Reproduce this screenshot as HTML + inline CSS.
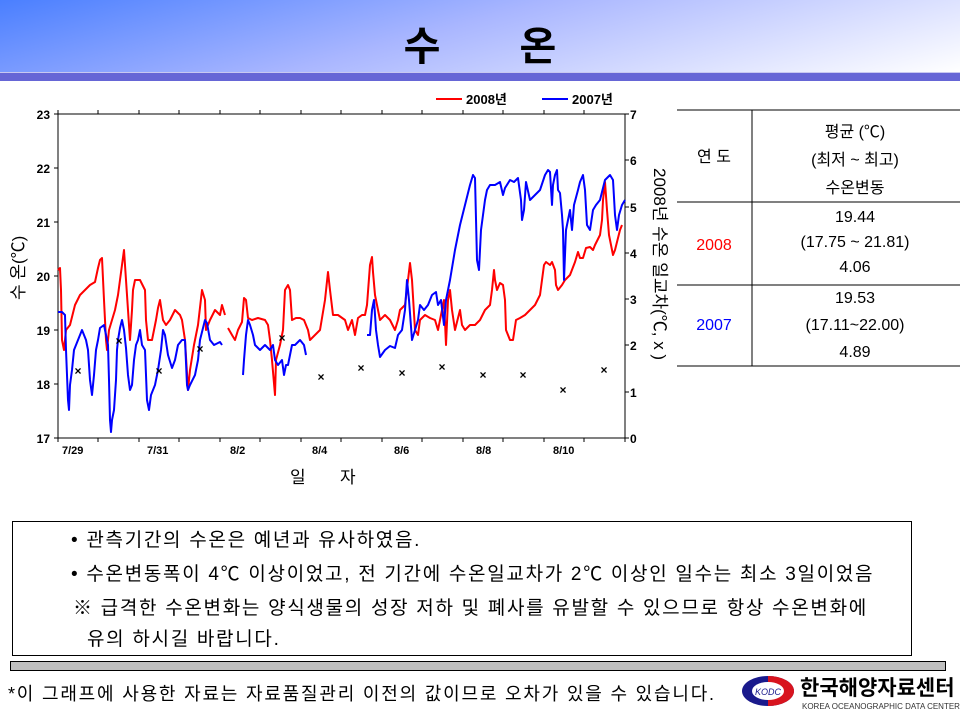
<!DOCTYPE html>
<html><head><meta charset="utf-8"><style>
body{margin:0;width:960px;height:720px;overflow:hidden;background:#fff;font-family:"Liberation Sans","Noto Sans CJK KR",sans-serif;position:relative}
.hdr{position:absolute;left:0;top:0;width:960px;height:72px;background:linear-gradient(165deg,#4a7fff 0%,#a9b6ff 45%,#ffffff 100%)}
.band{position:absolute;left:0;top:72px;width:960px;height:8px;background:#6666d6;border-top:1px solid #c8c8f0}
.ttl{position:absolute;top:14px;left:0;width:960px;text-align:center;font:bold 40px "Noto Sans CJK KR",sans-serif;word-spacing:70px;letter-spacing:0}
.box{position:absolute;left:12px;top:521px;width:898px;height:133px;border:1px solid #000;font-size:19px;letter-spacing:1.7px;line-height:34px}
.box div{white-space:nowrap}
.gbar{position:absolute;left:10px;top:661px;width:934px;height:8px;background:#bfbfbf;border:1px solid #000}
.note{position:absolute;left:8px;top:680px;font-size:18px;letter-spacing:1.8px;white-space:nowrap}
</style></head><body>
<div class="hdr"></div><div class="band"></div>
<div class="ttl">수 온</div>
<svg width="960" height="520" style="position:absolute;left:0;top:0" font-family="Liberation Sans,Noto Sans CJK KR,sans-serif">
<g stroke="#000" stroke-width="1" fill="none">
<rect x="58" y="114" width="567" height="324"/>
<path d="M58,114v-4M98,114v-4M139,114v-4M179,114v-4M220,114v-4M260,114v-4M301,114v-4M341,114v-4M382,114v-4M422,114v-4M463,114v-4M503,114v-4M544,114v-4M584,114v-4
M58,438v4M98,438v4M139,438v4M179,438v4M220,438v4M260,438v4M301,438v4M341,438v4M382,438v4M422,438v4M463,438v4M503,438v4M544,438v4M584,438v4M625,438v4
M58,114h-4M58,168h-4M58,222h-4M58,276h-4M58,330h-4M58,384h-4M58,438h-4
M625,114h4M625,160h4M625,207h4M625,253h4M625,299h4M625,345h4M625,392h4M625,438h4"/>
</g>
<g font-size="12" font-weight="bold" text-anchor="end">
<text x="50" y="119">23</text><text x="50" y="173">22</text><text x="50" y="227">21</text><text x="50" y="281">20</text><text x="50" y="335">19</text><text x="50" y="389">18</text><text x="50" y="443">17</text>
</g>
<g font-size="12" font-weight="bold">
<text x="630" y="119">7</text><text x="630" y="165">6</text><text x="630" y="212">5</text><text x="630" y="258">4</text><text x="630" y="304">3</text><text x="630" y="350">2</text><text x="630" y="397">1</text><text x="630" y="443">0</text>
</g>
<g font-size="11" font-weight="bold">
<text x="62" y="454">7/29</text><text x="147" y="454">7/31</text><text x="230" y="454">8/2</text><text x="312" y="454">8/4</text><text x="394" y="454">8/6</text><text x="476" y="454">8/8</text><text x="553" y="454">8/10</text>
</g>
<text x="290" y="483" font-size="17">일</text><text x="340" y="483" font-size="17">자</text>
<text transform="translate(24,300) rotate(-90)" font-size="17">수 온(℃)</text>
<text transform="translate(654,168) rotate(90)" font-size="17">2008년 수온 일교차(℃, x )</text>
<line x1="436" y1="99" x2="462" y2="99" stroke="red" stroke-width="2"/>
<text x="466" y="104" font-size="13" font-weight="bold">2008년</text>
<line x1="542" y1="99" x2="568" y2="99" stroke="blue" stroke-width="2"/>
<text x="572" y="104" font-size="13" font-weight="bold">2007년</text>
<g fill="none" stroke-width="2" stroke-linejoin="round">
<polyline stroke="red" points="58,270 60,268 61,290 62,340 64,350 66,330 70,325 75,305 80,295 85,290 90,285 95,282 98,268 100,260 102,258 104,300 106,340 107,350 109,330 112,320 115,310 118,295 122,265 124,250 126,280 128,310 130,340 132,310 133,290 135,280 140,280 145,290 146,320 148,340 152,340 156,320 158,308 160,300 163,320 166,325 170,320 175,310 180,315 182,320 185,340 188,390 190,370 194,345 198,325 202,290 205,300 206,330 210,320 215,310 220,315 222,305 225,315"/>
<polyline stroke="red" points="228,328 232,335 235,340 238,330 242,322 244,298 246,300 248,318 252,320 258,318 265,320 268,325 270,340 272,360 275,395 276,360 280,345 283,330 285,290 288,285 290,290 292,320 296,318 300,318 304,320 308,330 310,340 315,335 320,330 325,300 328,272 330,290 333,315 338,315 345,320 348,330 352,320 355,335 358,318 362,315 365,315 367,305 370,265 372,257 373,272 375,295 380,320 385,315 390,320 395,330 398,320 400,310 405,305 408,280 410,263 412,280 415,330 418,335 420,320 425,315 430,318 435,320 438,330 440,320 442,310 444,300 446,345 448,300 450,290 452,310 455,330 460,310 462,325 465,330 470,325 475,325 480,320 485,310 490,305 492,290 494,270 495,280 497,290 500,283 503,285 505,300 506,330 510,340 513,340 516,320 520,318 525,315 530,310 535,305 540,295 542,280 544,265 546,262 550,265 552,262 555,270 556,285 558,290 562,285 565,280 570,275 575,262 578,252 580,258 583,258 586,248 590,247 593,250 595,245 600,235 602,220 603,200 605,182 607,210 609,235 613,255 615,250 620,230 622,225"/>
<polyline stroke="blue" points="58,312 62,312 65,315 66,350 67,375 68,400 69,410 70,385 72,370 74,350 76,345 78,340 80,335 82,330 86,340 88,350 90,380 92,395 94,375 96,350 98,340 100,328 104,325 106,335 108,345 109,380 110,420 111,432 112,420 114,410 116,380 117,350 118,340 120,328 122,320 124,330 126,348 128,375 130,390 132,385 134,360 136,345 138,340 140,330 142,345 145,350 147,400 149,410 151,395 155,385 158,370 161,350 163,330 165,335 168,355 172,368 175,360 178,345 182,340 185,340 187,385 188,390 190,385 195,375 198,360 200,340 205,320 207,323 210,340 214,345 220,342 222,345"/>
<polyline stroke="blue" points="243,375 244,360 246,335 248,320 250,325 253,335 255,345 260,350 265,345 270,350 273,345 275,360 278,365 282,360 284,375 286,365 288,365 292,345 295,345 300,340 304,345 306,355"/>
<polyline stroke="blue" points="367,335 370,335 372,310 374,300 376,330 378,345 380,357 385,350 390,346 395,348 398,335 402,330 405,310 407,280 409,300 412,340 418,320 420,305 424,310 428,305 432,295 436,292 438,305 441,300 444,325 446,300 450,280 455,250 460,225 465,205 470,185 473,175 475,178 477,260 479,270 481,230 483,215 485,200 487,190 490,185 495,185 500,182 503,195 505,188 510,180 514,182 518,178 521,200 522,220 524,210 526,182 530,200 535,195 540,190 545,175 548,170 550,172 552,205 553,185 555,175 557,170 558,190 560,193 562,215 563,230 564,280 566,230 570,210 572,230 574,205 578,190 580,182 583,175 585,190 587,225 590,230 593,210 596,205 600,200 605,180 610,175 613,180 615,215 617,230 619,215 622,205 625,200"/>
</g>
<g font-size="12" font-weight="bold" text-anchor="middle">
<text x="78" y="375">×</text><text x="119" y="345">×</text><text x="159" y="375">×</text><text x="200" y="353">×</text><text x="282" y="342">×</text><text x="321" y="381">×</text><text x="361" y="372">×</text><text x="402" y="377">×</text><text x="442" y="371">×</text><text x="483" y="379">×</text><text x="523" y="379">×</text><text x="563" y="394">×</text><text x="604" y="374">×</text>
</g>
<g stroke="#000" stroke-width="1">
<line x1="677" y1="110" x2="960" y2="110"/><line x1="677" y1="202" x2="960" y2="202"/><line x1="677" y1="285" x2="960" y2="285"/><line x1="677" y1="366" x2="960" y2="366"/><line x1="752" y1="110" x2="752" y2="366"/>
</g>
<g font-size="16" text-anchor="middle">
<text x="714" y="162">연 도</text>
<text x="855" y="137">평균 (℃)</text><text x="855" y="165">(최저 ~ 최고)</text><text x="855" y="193">수온변동</text>
<text x="714" y="250" fill="red">2008</text>
<text x="855" y="222">19.44</text><text x="855" y="247">(17.75 ~ 21.81)</text><text x="855" y="272">4.06</text>
<text x="714" y="330" fill="blue">2007</text>
<text x="855" y="303">19.53</text><text x="855" y="330">(17.11~22.00)</text><text x="855" y="357">4.89</text>
</g>
</svg>
<div class="box">
<div style="position:absolute;left:58px;top:2px">• 관측기간의 수온은 예년과 유사하였음.</div>
<div style="position:absolute;left:58px;top:36px">• 수온변동폭이 4℃ 이상이었고, 전 기간에 수온일교차가 2℃ 이상인 일수는 최소 3일이었음</div>
<div style="position:absolute;left:60px;top:70px">※ 급격한 수온변화는 양식생물의 성장 저하 및 폐사를 유발할 수 있으므로 항상 수온변화에</div>
<div style="position:absolute;left:74px;top:101px">유의 하시길 바랍니다.</div>
</div>
<div class="gbar"></div>
<div class="note">*이 그래프에 사용한 자료는 자료품질관리 이전의 값이므로 오차가 있을 수 있습니다.</div>
<svg width="60" height="36" style="position:absolute;left:740px;top:674px"><ellipse cx="28" cy="17" rx="26" ry="15" fill="#1a1a8c"/><path d="M28,2 A26,15 0 0 1 28,32 Z" fill="#d8141e"/><ellipse cx="28" cy="17" rx="16" ry="9" fill="#fff"/><text x="28" y="21" font-size="9" text-anchor="middle" fill="#1a1a8c" font-style="italic">KODC</text></svg>
<div style="position:absolute;left:800px;top:675px;font:bold 21px 'Noto Sans CJK KR',sans-serif;line-height:24px">한국해양자료센터</div>
<div style="position:absolute;left:802px;top:702px;font-size:8px;color:#333">KOREA OCEANOGRAPHIC DATA CENTER</div>
</body></html>
